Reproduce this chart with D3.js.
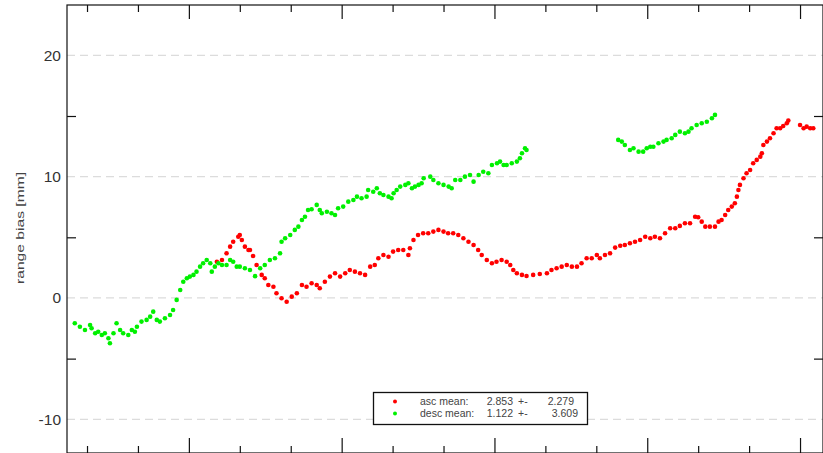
<!DOCTYPE html>
<html>
<head>
<meta charset="utf-8">
<script src="https://cdn.jsdelivr.net/npm/d3@7"></script>
<style>
  body { margin: 0; background: #fff; }
  svg { display: block; font-family: "Liberation Sans", Arial, Helvetica, sans-serif; }
</style>
</head>
<body>
<svg id="chart" width="823" height="453"></svg>
<script>
// ascending passes (red)
const ascDay = [35.5, 36.5, 37.4, 38.1, 38.7, 39.7, 40.0, 40.4, 41.0, 41.7, 42.0, 42.6, 43.3, 44.3, 44.9,
  45.6, 46.6, 47.2, 48.2, 49.2, 50.2, 51.2, 52.2, 53.1, 54.1, 55.1, 55.7, 56.7, 57.7, 58.7, 59.7, 60.7,
  61.6, 62.6, 63.6, 64.6, 65.6, 66.5, 67.2, 68.2, 69.2, 70.1, 71.1, 72.1, 73.1, 73.4, 74.1, 75.0, 76.0,
  77.0, 78.0, 79.0, 80.0, 80.9, 81.9, 82.9, 83.9, 84.9, 85.9, 86.8, 87.5, 88.5, 89.5, 90.4, 91.4, 92.4,
  93.1, 93.7, 94.4, 95.4, 96.3, 97.6, 98.9, 100.3, 101.2, 102.2, 103.2, 104.2, 105.2, 106.2, 107.1,
  108.1, 109.1, 110.1, 110.7, 111.7, 112.7, 113.7, 114.7, 115.6, 116.6, 117.6, 118.6, 119.6, 120.6,
  121.5, 122.5, 123.5, 124.5, 125.5, 126.4, 127.4, 128.4, 129.4, 130.0, 130.7, 131.4, 132.3, 133.3,
  134.0, 134.6, 135.3, 135.9, 136.6, 137.2, 137.6, 137.9, 138.2, 138.9, 139.5, 140.2, 140.8, 141.5,
  142.2, 142.5, 142.8, 143.5, 144.1, 144.8, 145.4, 146.1, 146.7, 147.4, 147.7, 150.0, 150.7, 151.3,
  152.0, 152.6];
const ascBias = [2.99, 3.13, 3.69, 4.23, 4.64, 5.05, 5.19, 4.78, 4.23, 3.96, 3.96, 3.46, 2.72, 1.90, 1.62,
  1.07, 0.93, 0.39, -0.02, -0.31, 0.11, 0.39, 1.07, 0.93, 1.21, 1.07, 0.80, 1.34, 1.76, 2.04, 1.76, 2.04,
  2.31, 2.17, 2.04, 1.90, 2.58, 2.72, 3.27, 3.54, 3.40, 3.82, 3.96, 3.96, 3.54, 4.10, 4.78, 5.19, 5.33,
  5.33, 5.47, 5.61, 5.47, 5.33, 5.33, 5.19, 4.92, 4.64, 4.37, 3.96, 3.54, 3.13, 2.86, 2.99, 3.13, 2.99,
  2.72, 2.31, 2.04, 1.90, 1.81, 1.90, 1.98, 2.04, 2.31, 2.45, 2.58, 2.72, 2.58, 2.58, 2.86,
  3.27, 3.27, 3.54, 3.27, 3.54, 3.69, 4.15, 4.30, 4.37, 4.51, 4.64, 4.78, 5.05, 4.92,
  5.05, 4.92, 5.33, 5.75, 5.75, 5.94, 6.16, 6.16, 6.70, 6.65, 6.29, 5.88, 5.88, 5.88,
  6.29, 6.43, 6.84, 7.25, 7.53, 7.81, 8.35, 8.90, 9.32, 9.87, 10.28, 10.55, 11.10, 11.38,
  11.65, 11.93, 12.61, 12.89, 13.17, 13.58, 13.99, 13.99, 14.18, 14.40, 14.62, 14.26, 13.99, 14.12,
  13.99, 13.99];

// descending passes (green)
const descDay = [7.6, 8.6, 9.6, 10.6, 10.9, 11.6, 12.2, 12.9, 13.5, 14.2, 14.5, 15.2, 15.8, 16.5, 17.1,
  18.1, 18.8, 19.4, 19.8, 20.7, 21.7, 22.4, 23.0, 23.7, 24.3, 25.3, 26.3, 26.9, 27.6, 28.3, 28.9, 29.6,
  30.2, 30.9, 31.5, 32.2, 32.8, 33.5, 34.2, 34.5, 35.1, 35.8, 36.5, 37.4, 38.1, 38.7, 39.4, 40.0, 41.0,
  42.0, 43.0, 44.0, 44.9, 45.9, 46.9, 47.9, 48.2, 48.9, 49.9, 50.8, 51.5, 52.2, 52.8, 53.4, 54.1, 55.1,
  55.7, 56.1, 57.1, 58.0, 58.7, 59.3, 60.3, 61.3, 62.3, 63.0, 63.9, 64.9, 65.2, 66.2, 66.9, 67.5, 68.2,
  69.2, 69.8, 70.2, 70.8, 71.5, 72.5, 73.1, 73.8, 74.4, 75.1, 75.7, 76.1, 77.4, 78.0, 79.0, 80.0, 81.0,
  81.6, 82.3, 83.3, 84.2, 85.2, 85.9, 86.9, 87.8, 88.8, 89.5, 90.5, 91.1, 91.8, 92.4, 93.4, 94.4, 95.0,
  95.4, 96.0, 96.3,
  114.3, 115.0, 115.6, 116.6, 117.3, 118.3, 119.2, 119.9, 120.6, 121.2, 122.2, 123.2, 123.8, 124.8,
  125.5, 126.4, 127.4, 128.1, 128.7, 129.7, 130.7, 131.7, 132.7, 133.3];
const descBias = [-2.09, -2.37, -2.64, -2.23, -2.50, -2.91, -2.78, -3.05, -2.91, -3.32, -3.73, -2.91, -2.09,
  -2.64, -2.91, -3.05, -2.64, -2.78, -2.37, -1.95, -1.81, -1.54, -1.13, -1.81, -1.95, -1.67, -1.40, -0.99,
  -0.16, 0.66, 1.34, 1.62, 1.76, 1.90, 2.17, 2.58, 2.86, 3.13, 2.86, 2.17, 2.58, 2.86, 2.72, 2.72, 3.13,
  2.99, 2.58, 2.58, 2.45, 2.31, 1.80, 2.45, 2.72, 3.13, 3.27, 3.69, 4.64, 4.92, 5.19, 5.61, 5.88, 6.43,
  6.70, 7.25, 7.31, 7.67, 7.25, 6.98, 7.11, 6.98, 6.84, 7.39, 7.53, 7.94, 8.08, 8.35, 8.22, 8.35, 8.90,
  8.76, 9.04, 8.63, 8.49, 8.35, 8.22, 8.63, 8.90, 9.18, 9.32, 9.46, 9.04, 9.18, 9.32, 9.46, 9.87, 10.00,
  9.73, 9.46, 9.32, 9.18, 9.04, 9.73, 9.73, 10.00, 10.14, 9.59, 10.14, 10.41, 10.28, 10.96, 11.10, 11.24,
  10.96, 10.96, 11.10, 11.24, 11.52, 11.93, 12.34, 12.20,
  13.03, 12.89, 12.61, 12.20, 12.34, 12.06, 12.06, 12.34, 12.47, 12.47, 12.75, 12.89, 13.03, 13.17,
  13.44, 13.71, 13.58, 13.71, 13.99, 14.26, 14.40, 14.53, 14.81, 15.09];

const yTicks = [-10, 0, 10, 20];
const yMinorTicks = [-5, 5, 15];
const xMajorTicks = [30, 60, 90, 120, 150];
const xMinorTicks = [10, 20, 40, 50, 70, 80, 100, 110, 130, 140];

const legendLabels = ['asc mean:', 'desc mean:'];
const legendMeans = ['2.853', '1.122'];
const legendSds = ['2.279', '3.609'];
const legendColors = ['#ff0000', '#00f000'];

const svg = d3.select('#chart');
const mLeft = 67, mTop = 5, mRight = 823, mBottom = 453;

const x = d3.scaleLinear().domain([6.07, 154.51]).range([mLeft, mRight]);
const y = d3.scaleLinear().domain([-12.78, 24.15]).range([mBottom, mTop]);

// dashed grid
svg.append('g')
  .selectAll('line')
  .data(yTicks)
  .enter().append('line')
  .attr('x1', mLeft).attr('x2', mRight)
  .attr('y1', d => y(d)).attr('y2', d => y(d))
  .attr('stroke', '#dcdcdc')
  .attr('stroke-width', 1.3)
  .attr('stroke-dasharray', '8,5');

// points
function drawSeries(days, vals, color) {
  svg.append('g')
    .selectAll('circle')
    .data(days)
    .enter().append('circle')
    .attr('cx', d => x(d))
    .attr('cy', (d, i) => y(vals[i]))
    .attr('r', 2.3)
    .attr('fill', color);
}
drawSeries(ascDay, ascBias, legendColors[0]);
drawSeries(descDay, descBias, legendColors[1]);

// tick marks on all four sides
function ticks(axis, tx, ty) {
  const g = svg.append('g').attr('transform', `translate(${tx},${ty})`).call(axis);
  g.select('.domain').remove();
  g.selectAll('line').attr('stroke', '#111').attr('stroke-width', 1.2);
  return g;
}
ticks(d3.axisBottom(x).tickValues(xMinorTicks).tickSize(7).tickFormat(''), 0, mTop);
ticks(d3.axisBottom(x).tickValues(xMajorTicks).tickSize(14).tickFormat(''), 0, mTop);
ticks(d3.axisTop(x).tickValues(xMinorTicks).tickSize(7).tickFormat(''), 0, mBottom);
ticks(d3.axisTop(x).tickValues(xMajorTicks).tickSize(15).tickFormat(''), 0, mBottom);
ticks(d3.axisRight(y).tickValues(yMinorTicks).tickSize(9).tickFormat(''), mLeft, 0);
ticks(d3.axisLeft(y).tickValues(yMinorTicks).tickSize(9).tickFormat(''), mRight, 0);

const yLab = svg.append('g')
  .attr('transform', `translate(${mLeft},0)`)
  .call(d3.axisLeft(y).tickValues(yTicks).tickSize(0).tickPadding(6).tickFormat(d => String(d)));
yLab.select('.domain').remove();
yLab.selectAll('text')
  .attr('font-family', '"Liberation Sans", Arial, sans-serif')
  .attr('font-size', 15.5)
  .attr('fill', '#333');

// frame
svg.append('rect')
  .attr('x', mLeft).attr('y', mTop)
  .attr('width', mRight - mLeft).attr('height', mBottom - mTop)
  .attr('fill', 'none')
  .attr('stroke', '#111')
  .attr('stroke-width', 1.2);

// y axis title
svg.append('text')
  .attr('transform', 'translate(24,228) rotate(-90)')
  .attr('text-anchor', 'middle')
  .attr('font-size', 10.5)
  .attr('textLength', 112)
  .attr('lengthAdjust', 'spacingAndGlyphs')
  .attr('fill', '#444')
  .text('range bias [mm]');

// legend
const lg = svg.append('g');
lg.append('rect')
  .attr('x', 373.5).attr('y', 392.5)
  .attr('width', 214).attr('height', 32)
  .attr('fill', '#fff')
  .attr('stroke', '#111')
  .attr('stroke-width', 1.3);
const rows = lg.selectAll('g.row')
  .data(legendLabels)
  .enter().append('g')
  .attr('class', 'row')
  .attr('transform', (d, i) => `translate(0,${405 + i * 12})`);
rows.append('circle')
  .attr('cx', 395).attr('cy', -3.5).attr('r', 2)
  .attr('fill', (d, i) => legendColors[i]);
rows.append('text')
  .attr('x', 420).attr('font-size', 10.5).attr('fill', '#444')
  .text(d => d);
rows.append('text')
  .attr('x', 513).attr('text-anchor', 'end').attr('font-size', 10.5).attr('fill', '#444')
  .text((d, i) => legendMeans[i]);
rows.append('text')
  .attr('x', 518).attr('font-size', 10.5).attr('fill', '#444')
  .text('+-');
rows.append('text')
  .attr('x', (d, i) => i === 0 ? 574 : 578).attr('text-anchor', 'end').attr('font-size', 10.5).attr('fill', '#444')
  .text((d, i) => legendSds[i]);
</script>
</body>
</html>
